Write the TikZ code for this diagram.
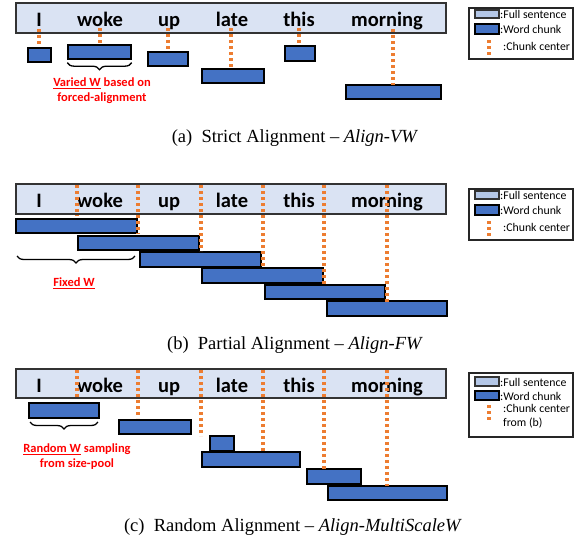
\documentclass[tikz,border=0pt]{standalone}
\usepackage{fontspec}
\setmainfont{Liberation Serif}
\newfontfamily\calfont{Carlito}
\usetikzlibrary{fit,decorations.pathreplacing}
\definecolor{barfill}{HTML}{DAE3F3}
\definecolor{chunkfill}{HTML}{4472C4}
\definecolor{dotor}{HTML}{ED7D31}
\definecolor{legfill}{HTML}{B4C7E7}
\newcommand\chk[5]{\node[chunkbox, fit={(#2,#3) (#4,#5)}] (#1) {};}
\begin{document}
\begin{tikzpicture}[x=1pt,y=-1pt,
  sentbar/.style={draw=black!80, line width=1.6pt, fill=barfill, inner sep=0pt},
  chunkbox/.style={draw=black, line width=1.4pt, fill=chunkfill, inner sep=0pt},
  legbox/.style={draw=black!85, line width=1.2pt, inner sep=0pt},
  cdot/.style={draw=dotor, line width=3.4pt, dash pattern=on 3pt off 3pt},
  word/.style={font=\calfont\bfseries\fontsize{20.5}{24}\selectfont, anchor=base, inner sep=0pt},
  redlbl/.style={text=red, font=\calfont\bfseries\fontsize{12.5}{15}\selectfont, align=center, inner sep=0pt},
  legtxt/.style={font=\calfont\fontsize{11.8}{14}\selectfont, anchor=west, inner sep=0pt, align=left},
  capt/.style={font=\fontsize{18.5}{21}\selectfont, inner sep=0pt},
  brc/.style={draw=black, decorate, decoration={brace, mirror, amplitude=7pt}, line width=1.3pt}]
\useasboundingbox (0,0) rectangle (584,546);

% ================= (a) =================
\node[sentbar, fit={(16,3) (446,33)}] (barA) {};
\node[word] (aI) at (39,26) {I};
\node[word] (aWoke) at (100,26) {woke};
\node[word] (aUp) at (169,26) {up};
\node[word] (aLate) at (232,26) {late};
\node[word] (aThis) at (299,26) {this};
\node[word] (aMorn) at (387,26) {morning};
\chk{a1}{28}{48}{51}{62}
\chk{a2}{68}{45}{131}{59}
\chk{a3}{148}{52}{188}{66}
\chk{a4}{202}{69}{264}{83}
\chk{a5}{285}{46}{315}{61}
\chk{a6}{346}{85}{441}{99}
\draw[cdot] (39,29) -- (39,44);
\draw[cdot] (100,28) -- (100,44);
\draw[cdot] (168,28) -- (168,50);
\draw[cdot] (231,28) -- (231,68);
\draw[cdot] (299,28) -- (299,43);
\draw[cdot] (393,29) -- (393,85);
\draw[brc] (a2.south west) ++(0,3) coordinate (ab1) -- (a2.south east |- ab1) coordinate (ab2);
\node[redlbl] (labA) at (102,91) {\underline{Varied W} based on\\forced-alignment};
\node[capt] (capA) at (295,138) {(a)\enspace Strict Alignment -- \textit{Align-VW}};
% legend (a)
\node[legbox, fit={(469,8) (573,59)}] (legA) {};
\node[sentbar, fill=legfill, line width=1.3pt, fit={(475,10) (499,18)}] (legA1) {};
\node[legtxt] at (500,14) {:Full sentence};
\node[chunkbox, line width=1.3pt, fit={(475,24) (499,34)}] (legA2) {};
\node[legtxt] at (500,29) {:Word chunk};
\draw[cdot] (489,40) -- (489,55);
\node[legtxt] at (503,46) {:Chunk center};

% ================= (b) =================
\node[sentbar, fit={(16,184) (446,214)}] (barB) {};
\node[word] (bI) at (39,207) {I};
\node[word] (bWoke) at (100,207) {woke};
\node[word] (bUp) at (169,207) {up};
\node[word] (bLate) at (232,207) {late};
\node[word] (bThis) at (299,207) {this};
\node[word] (bMorn) at (387,207) {morning};
\chk{b1}{16}{219}{137}{233}
\chk{b2}{78}{236}{199}{250}
\chk{b3}{140}{252}{261}{267}
\chk{b4}{202}{268}{323}{283}
\chk{b5}{265}{285}{385}{299}
\chk{b6}{327}{301}{447}{316}
\draw[cdot] (77,185) -- (77,216);
\draw[cdot] (138,185) -- (138,234);
\draw[cdot] (201,185) -- (201,251);
\draw[cdot] (263,185) -- (263,268);
\draw[cdot] (324,185) -- (324,286);
\draw[cdot] (387,185) -- (387,302);
\draw[brc] (17,256) -- (135,256);
\node[redlbl] (labB) at (74,283) {\underline{Fixed W}};
\node[capt] (capB) at (295,345) {(b)\enspace Partial Alignment -- \textit{Align-FW}};
% legend (b)
\node[legbox, fit={(469,189) (573,240)}] (legB) {};
\node[sentbar, fill=legfill, line width=1.3pt, fit={(475,191) (499,199)}] (legB1) {};
\node[legtxt] at (500,195) {:Full sentence};
\node[chunkbox, line width=1.3pt, fit={(475,205) (499,215)}] (legB2) {};
\node[legtxt] at (500,210) {:Word chunk};
\draw[cdot] (489,221) -- (489,236);
\node[legtxt] at (503,227) {:Chunk center};

% ================= (c) =================
\node[sentbar, fit={(16,369) (446,398)}] (barC) {};
\node[word] (cI) at (39,392) {I};
\node[word] (cWoke) at (100,392) {woke};
\node[word] (cUp) at (169,392) {up};
\node[word] (cLate) at (232,392) {late};
\node[word] (cThis) at (299,392) {this};
\node[word] (cMorn) at (387,392) {morning};
\chk{c1}{29}{403}{99}{418}
\chk{c2}{119}{420}{191}{434}
\chk{c3}{210}{436}{234}{451}
\chk{c4}{202}{452}{300}{467}
\chk{c5}{307}{469}{361}{484}
\chk{c6}{328}{486}{447}{500}
\draw[cdot] (77,370) -- (77,400);
\draw[cdot] (138,370) -- (138,418);
\draw[cdot] (201,370) -- (201,436);
\draw[cdot] (263,370) -- (263,453);
\draw[cdot] (324,370) -- (324,469);
\draw[cdot] (387,370) -- (387,486);
\draw[brc] (30,422) -- (98,422);
\node[redlbl] (labC) at (77,457) {\underline{Random W} sampling\\from size-pool};
\node[capt] (capC) at (293,527) {(c)\enspace Random Alignment -- \textit{Align-MultiScaleW}};
% legend (c)
\node[legbox, fit={(469,373) (573,437)}] (legC) {};
\node[sentbar, fill=legfill, line width=1.3pt, fit={(475,377) (499,386)}] (legC1) {};
\node[legtxt] at (500,382) {:Full sentence};
\node[chunkbox, line width=1.3pt, fit={(475,391) (499,400)}] (legC2) {};
\node[legtxt] at (500,396) {:Word chunk};
\draw[cdot] (489,405) -- (489,420);
\node[legtxt, anchor=north west] at (503,404) {:Chunk center\\from (b)};
\end{tikzpicture}
\end{document}
